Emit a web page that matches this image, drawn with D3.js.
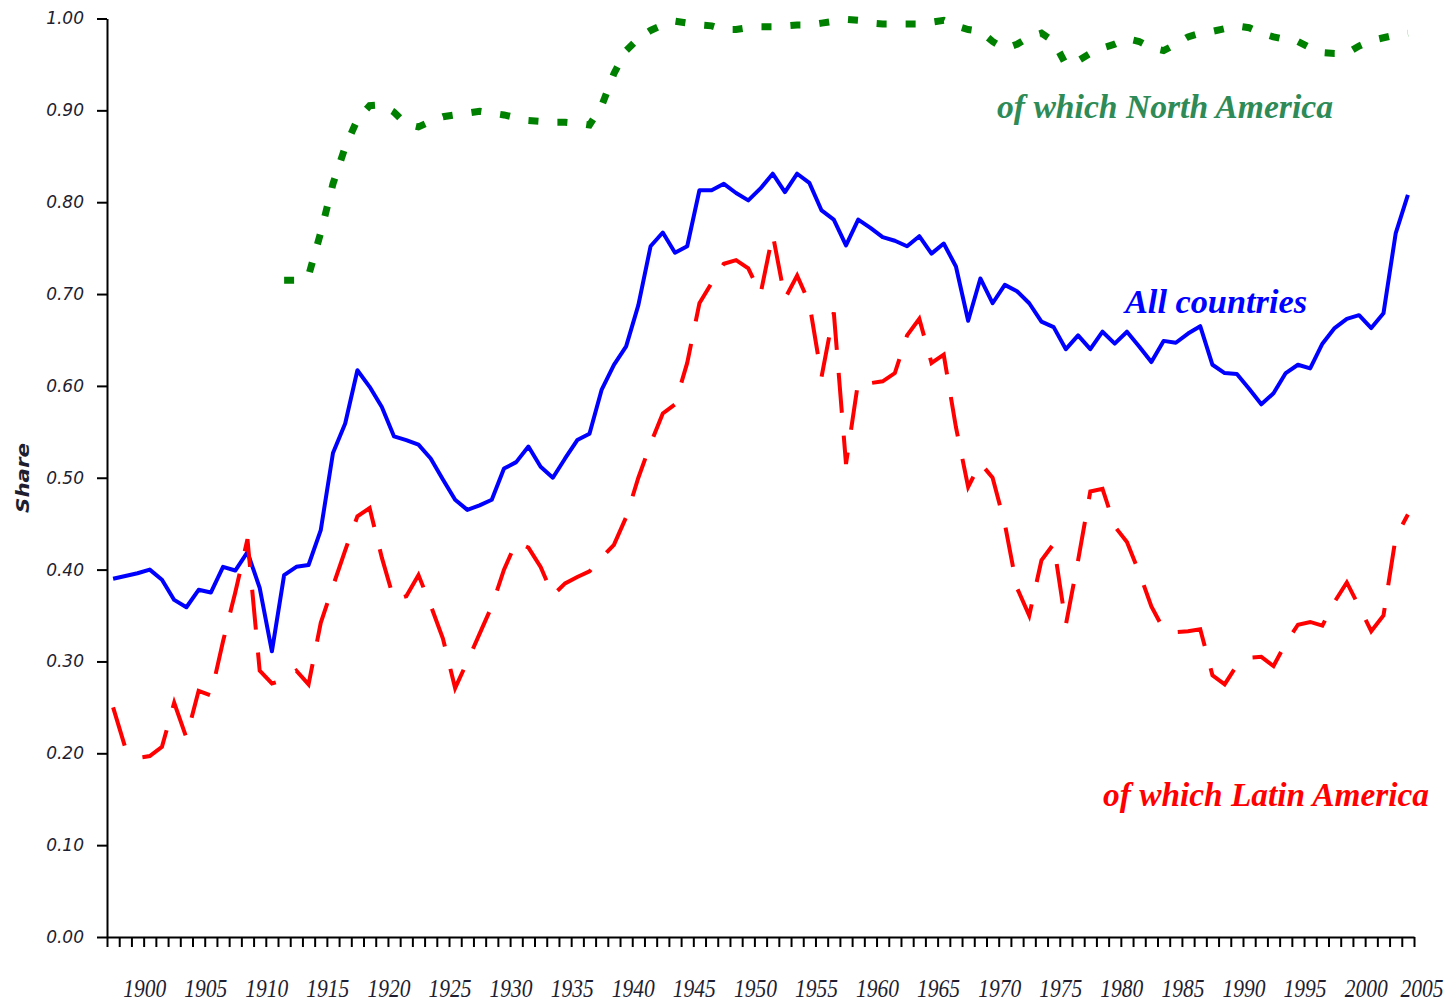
<!DOCTYPE html>
<html>
<head>
<meta charset="utf-8">
<script src="https://cdn.jsdelivr.net/npm/d3@7"></script>
<style>
  body { margin: 0; background: #fff; }
  svg { display: block; }
</style>
</head>
<body>
<script>
// Share series, one value per year 1897-2003
const years = d3.range(1897, 2004);

const allCountries = [
    0.390, 0.393, 0.396, 0.400, 0.389, 0.367, 0.359, 0.378, 0.375, 0.403,
    0.399, 0.419, 0.380, 0.311, 0.394, 0.403, 0.405, 0.443, 0.527, 0.559,
    0.617, 0.599, 0.577, 0.545, 0.541, 0.536, 0.521, 0.498, 0.476, 0.465,
    0.470, 0.476, 0.510, 0.517, 0.534, 0.512, 0.500, 0.521, 0.541, 0.548,
    0.596, 0.623, 0.643, 0.688, 0.752, 0.767, 0.745, 0.752, 0.813, 0.813,
    0.820, 0.810, 0.802, 0.815, 0.831, 0.811, 0.831, 0.821, 0.791, 0.781,
    0.753, 0.781, 0.772, 0.762, 0.758, 0.752, 0.763, 0.744, 0.755, 0.730,
    0.671, 0.717, 0.690, 0.710, 0.703, 0.690, 0.670, 0.664, 0.640, 0.655,
    0.640, 0.659, 0.646, 0.659, 0.643, 0.626, 0.649, 0.647, 0.657, 0.665,
    0.623, 0.614, 0.613, 0.597, 0.580, 0.592, 0.614, 0.623, 0.619, 0.646,
    0.663, 0.673, 0.677, 0.663, 0.679, 0.766, 0.808
];

const latinAmerica = [
    0.250, 0.206, 0.195, 0.197, 0.207, 0.255, 0.217, 0.268, 0.263, 0.322,
    0.375, 0.433, 0.290, 0.276, 0.280, 0.290, 0.275, 0.342, 0.382, 0.421,
    0.458, 0.467, 0.413, 0.367, 0.371, 0.394, 0.361, 0.325, 0.271, 0.300,
    0.330, 0.360, 0.400, 0.430, 0.424, 0.403, 0.372, 0.385, 0.392, 0.398,
    0.413, 0.427, 0.457, 0.500, 0.537, 0.570, 0.580, 0.625, 0.690, 0.712,
    0.733, 0.737, 0.728, 0.700, 0.765, 0.695, 0.720, 0.690, 0.610, 0.680,
    0.515, 0.605, 0.603, 0.605, 0.614, 0.655, 0.673, 0.625, 0.634, 0.555,
    0.490, 0.516, 0.500, 0.450, 0.380, 0.350, 0.410, 0.428, 0.340, 0.410,
    0.485, 0.488, 0.447, 0.430, 0.397, 0.360, 0.335, 0.332, 0.333, 0.335,
    0.285, 0.275, 0.296, 0.304, 0.305, 0.295, 0.320, 0.340, 0.343, 0.339,
    0.365, 0.386, 0.360, 0.333, 0.350, 0.435, 0.460
];

// North America only starts in 1911
const northAmerica = [
    null, null, null, null, null, null, null, null, null, null,
    null, null, null, null,
    0.715, 0.715, 0.720, 0.767, 0.820, 0.860, 0.890, 0.905, 0.906, 0.898,
    0.885, 0.882, 0.888, 0.893, 0.895, 0.897, 0.899, 0.897, 0.895, 0.892,
    0.889, 0.888, 0.887, 0.887, 0.886, 0.884, 0.905, 0.940, 0.965, 0.978,
    0.987, 0.993, 0.997, 0.995, 0.993, 0.992, 0.988, 0.988, 0.990, 0.991,
    0.991, 0.992, 0.993, 0.993, 0.995, 0.997, 0.999, 0.998, 0.995, 0.994,
    0.994, 0.994, 0.994, 0.996, 0.998, 0.992, 0.988, 0.986, 0.975, 0.967,
    0.972, 0.980, 0.984, 0.975, 0.950, 0.954, 0.962, 0.968, 0.972, 0.978,
    0.975, 0.968, 0.965, 0.972, 0.980, 0.984, 0.986, 0.989, 0.992, 0.990,
    0.984, 0.980, 0.977, 0.975, 0.968, 0.963, 0.962, 0.962, 0.970, 0.976,
    0.979, 0.982, 0.984
];

const yTicks = [0, 0.1, 0.2, 0.3, 0.4, 0.5, 0.6, 0.7, 0.8, 0.9, 1.0];
const tickYears = d3.range(1897, 2005);
const labelYears = d3.range(1900, 2006, 5);

const width = 1452, height = 1005;

const svg = d3.select('body')
    .append('svg')
    .attr('width', width)
    .attr('height', height);

const x = d3.scaleLinear().domain([1897, 2004]).range([107, 1414]);
const y = d3.scaleLinear().domain([0, 1]).range([937, 18.5]);

// Y axis
const yAxis = svg.append('g')
    .attr('transform', 'translate(107,0)')
    .call(d3.axisLeft(y)
        .tickValues(yTicks)
        .tickFormat(d3.format('.2f'))
        .tickSize(10)
        .tickSizeOuter(0)
        .tickPadding(13));

yAxis.select('.domain').attr('stroke', '#000').attr('stroke-width', 2);
yAxis.selectAll('.tick line').attr('stroke', '#000').attr('stroke-width', 2);
yAxis.selectAll('.tick text')
    .attr('fill', '#1e1e30')
    .style('font-family', '"DejaVu Sans", sans-serif')
    .style('font-style', 'italic')
    .style('font-size', '17px');

// X axis: one tick per year, labels every five years
const xAxis = svg.append('g')
    .attr('transform', 'translate(0,937)')
    .call(d3.axisBottom(x)
        .tickValues(tickYears)
        .tickFormat('')
        .tickSize(10)
        .tickSizeOuter(0));

xAxis.select('.domain').attr('stroke', '#000').attr('stroke-width', 2);
xAxis.selectAll('.tick line').attr('stroke', '#000').attr('stroke-width', 2);

svg.append('g')
    .selectAll('text')
    .data(labelYears)
    .join('text')
    .attr('x', d => Math.min(x(d) + 1, 1422))
    .attr('y', 997)
    .attr('text-anchor', 'middle')
    .attr('textLength', 43)
    .attr('lengthAdjust', 'spacingAndGlyphs')
    .attr('fill', '#1e1e30')
    .style('font-family', '"Liberation Serif", serif')
    .style('font-style', 'italic')
    .style('font-size', '26px')
    .text(d => d);

// Axis title
svg.append('text')
    .attr('transform', 'translate(29,478) rotate(-90)')
    .attr('text-anchor', 'middle')
    .attr('textLength', 70)
    .attr('lengthAdjust', 'spacingAndGlyphs')
    .attr('fill', '#1e1e30')
    .style('font-family', '"DejaVu Sans", sans-serif')
    .style('font-style', 'italic')
    .style('font-weight', 'bold')
    .style('font-size', '17px')
    .text('Share');

// Lines
const line = d3.line()
    .defined(d => d[1] != null)
    .x(d => x(d[0] + 0.5))
    .y(d => y(d[1]));

function series(values) {
    return years.map((yr, i) => [yr, values[i]]);
}

svg.append('path')
    .attr('d', line(series(allCountries)))
    .attr('fill', 'none')
    .attr('stroke', '#0000ff')
    .attr('stroke-width', 4)
    .attr('stroke-linejoin', 'round');

svg.append('path')
    .attr('d', line(series(latinAmerica)))
    .attr('fill', 'none')
    .attr('stroke', '#ff0000')
    .attr('stroke-width', 4)
    .attr('stroke-dasharray', '40,23');

svg.append('path')
    .attr('d', line(series(northAmerica)))
    .attr('fill', 'none')
    .attr('stroke', '#008000')
    .attr('stroke-width', 7)
    .attr('stroke-dasharray', '10,19');

// Series labels
const labels = [
    { text: 'of which North America', x: 997, y: 118, len: 336, color: '#2e8b57' },
    { text: 'All countries', x: 1125, y: 313, len: 182, color: '#0000ff' },
    { text: 'of which Latin America', x: 1103, y: 806, len: 326, color: '#ff0000' }
];

svg.append('g')
    .selectAll('text')
    .data(labels)
    .join('text')
    .attr('x', d => d.x)
    .attr('y', d => d.y)
    .attr('textLength', d => d.len)
    .attr('lengthAdjust', 'spacingAndGlyphs')
    .attr('fill', d => d.color)
    .style('font-family', '"Liberation Serif", serif')
    .style('font-style', 'italic')
    .style('font-weight', 'bold')
    .style('font-size', '34px')
    .text(d => d.text);
</script>
</body>
</html>
